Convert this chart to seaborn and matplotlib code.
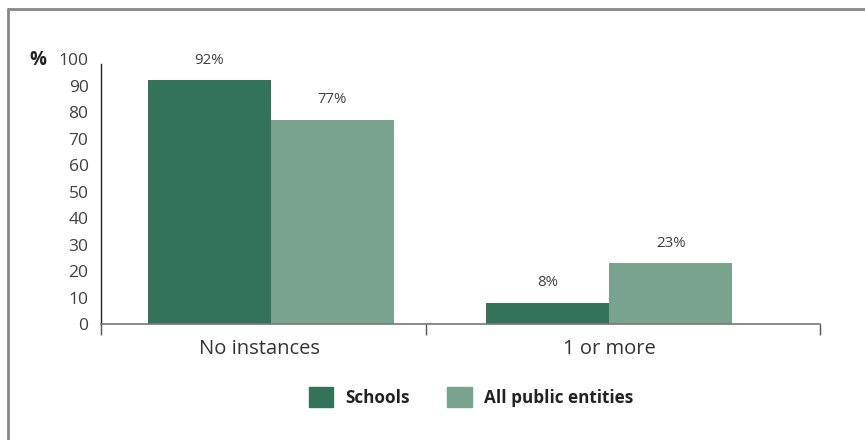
import matplotlib
matplotlib.use("Agg")
import matplotlib.pyplot as plt
import matplotlib.transforms as mtrans
from matplotlib.lines import Line2D
import pandas as pd
import seaborn as sns

# data
categories = ["No instances", "1 or more"]
series = ["Schools", "All public entities"]
schools = [92, 8]
all_public = [77, 23]
y_ticks = [0, 10, 20, 30, 40, 50, 60, 70, 80, 90, 100]

colors = {"Schools": "#33735A", "All public entities": "#7AA38F"}

df = pd.DataFrame({
    "category": categories * 2,
    "group": [series[0]] * 2 + [series[1]] * 2,
    "value": schools + all_public,
})

sns.set_theme(style="white")
plt.rcParams["font.family"] = ["Open Sans", "DejaVu Sans"]

fig = plt.figure(figsize=(8.65, 4.4), dpi=100)
ax = fig.add_axes([101 / 865, 1 - 324 / 440, (820 - 101) / 865, (324 - 59) / 440])

sns.barplot(data=df, x="category", y="value", hue="group", order=categories,
            hue_order=series, palette=colors, width=0.728, saturation=1,
            edgecolor="none", ax=ax, legend=False)

for cont in ax.containers:
    ax.bar_label(cont, fmt="%g%%", padding=9, fontsize=10.8, color="#404040")

ax.set_xlim(-0.503, 1.624)
ax.set_ylim(0, 100)
ax.set_yticks(y_ticks)
ax.tick_params(axis="y", length=0, labelsize=12.5, labelcolor="#404040", pad=9)
ax.tick_params(axis="x", which="major", length=0, labelsize=14.5, labelcolor="#333333", pad=11)
ax.set_xticks([-0.503, 0.459, 1.624], minor=True)
ax.tick_params(axis="x", which="minor", bottom=True, length=8, width=1,
               color="#555555", direction="out")
ax.set_xlabel("")
ax.set_ylabel("")

# first category label sits a little left of its bars in the original
lbl = ax.get_xticklabels()[0]
lbl.set_transform(lbl.get_transform() + mtrans.ScaledTranslation(-0.12, 0, fig.dpi_scale_trans))

for s in ["top", "right"]:
    ax.spines[s].set_visible(False)
ax.spines["left"].set_color("#222222")
ax.spines["left"].set_linewidth(1)
ax.spines["left"].set_bounds(0, 98)
ax.spines["bottom"].set_color("#777777")
ax.spines["bottom"].set_linewidth(1.2)

fig.text(38 / 865, 1 - 60 / 440, "%", fontsize=13.5, fontweight="bold",
         color="#222222", ha="center", va="center")

handles = [plt.Rectangle((0, 0), 1, 1, color=colors[s]) for s in series]
leg = fig.legend(handles, series, loc="center", bbox_to_anchor=(471 / 865, 1 - 397 / 440),
                 ncol=2, frameon=False, handlelength=1.45, handleheight=1.45,
                 columnspacing=2.2, handletextpad=0.7,
                 prop={"size": 12.3, "weight": "bold"})
for t in leg.get_texts():
    t.set_color("#222222")

# frame lines
fig.add_artist(Line2D([8 / 865, 8 / 865], [0, 1 - 9 / 440], transform=fig.transFigure,
                      color="#888888", lw=2))
fig.add_artist(Line2D([8 / 865, 1], [1 - 9 / 440, 1 - 9 / 440], transform=fig.transFigure,
                      color="#888888", lw=2))

fig.savefig("out.png", dpi=100)
